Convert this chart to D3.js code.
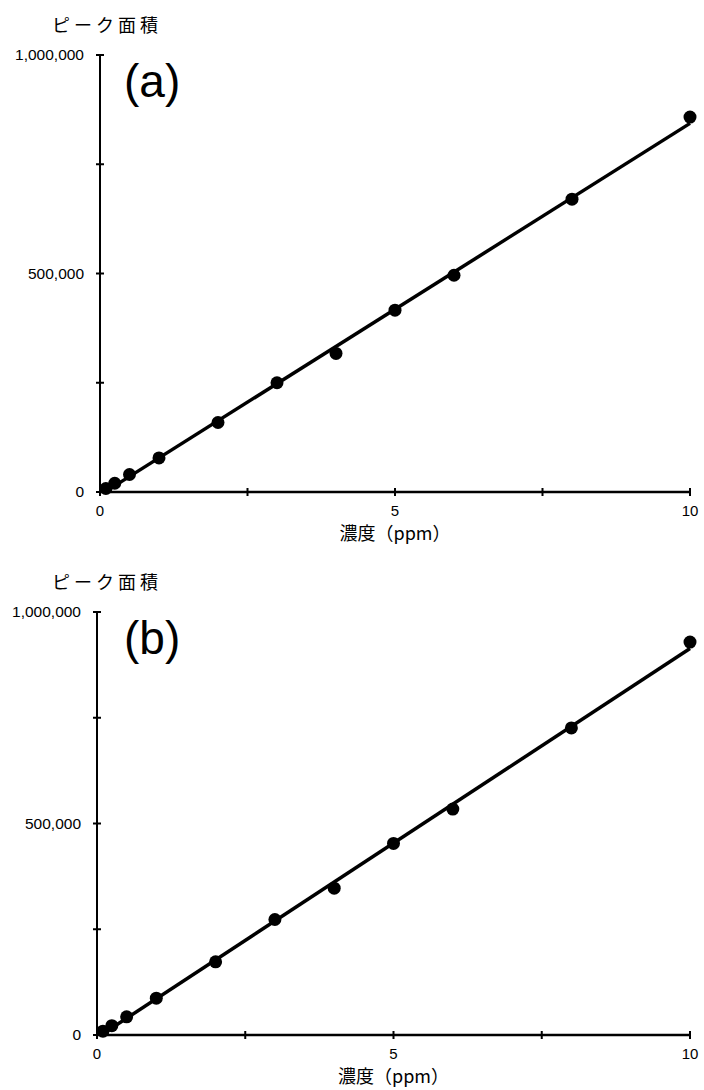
<!DOCTYPE html>
<html>
<head>
<meta charset="utf-8">
<script src="https://cdn.jsdelivr.net/npm/d3@7"></script>
<style>
  body { margin: 0; background: #fff; }
  svg { display: block; }
</style>
</head>
<body>
<div class="svg"></div>
<script>
var svgWidth = 704;
var svgHeight = 1090;

// concentration (ppm) and peak areas
var concentrations = [0.1, 0.25, 0.5, 1, 2, 3, 4, 5, 6, 8, 10];
var areaA = [8000, 20000, 40000, 78000, 159000, 250000, 317000, 416000, 496000, 670000, 858000];
var areaB = [9000, 22000, 43000, 87000, 173000, 273000, 347000, 453000, 534000, 726000, 929000];

var xTicks = [0, 2.5, 5, 7.5, 10];
var xTickLabels = [0, 5, 10];
var yTicks = [0, 250000, 500000, 750000, 1000000];
var yTickLabels = [0, 500000, 1000000];

var panelLabels = ["(a)", "(b)"];
var yTitle = "ピーク面積";
var xTitle = "濃度（ppm）";

var svg = d3.select(".svg")
  .append("svg")
  .attr("width", svgWidth)
  .attr("height", svgHeight);

var fmt = d3.format(",");

function drawPanel(values, label, box) {
  var x = d3.scaleLinear().domain([0, 10]).range([box.left, box.right]);
  var y = d3.scaleLinear().domain([0, 1000000]).range([box.bottom, box.top]);

  var g = svg.append("g");

  // y title
  g.append("text")
    .text(yTitle)
    .attr("x", 52)
    .attr("y", box.top - 23)
    .attr("font-family", "'Noto Sans CJK JP', sans-serif")
    .attr("font-size", 18)
    .attr("letter-spacing", 4)
    .attr("fill", "#000");

  // panel label
  g.append("text")
    .text(label)
    .attr("x", 124)
    .attr("y", box.top + 42)
    .attr("font-family", "'Liberation Sans', Arial, sans-serif")
    .attr("font-size", 46)
    .attr("fill", "#000");

  // axes lines
  g.append("line")
    .attr("x1", x(0)).attr("x2", x(0))
    .attr("y1", y(0)).attr("y2", y(1000000))
    .attr("stroke", "#000").attr("stroke-width", 2);
  g.append("line")
    .attr("x1", x(0)).attr("x2", x(10))
    .attr("y1", y(0)).attr("y2", y(0))
    .attr("stroke", "#000").attr("stroke-width", 2.5);

  // cross ticks
  g.selectAll(".xt").data(xTicks).enter().append("line")
    .attr("x1", function(d) { return x(d); })
    .attr("x2", function(d) { return x(d); })
    .attr("y1", y(0) - 4).attr("y2", y(0) + 4)
    .attr("stroke", "#000").attr("stroke-width", 2);
  g.selectAll(".yt").data(yTicks).enter().append("line")
    .attr("x1", x(0) - 4).attr("x2", x(0) + 4)
    .attr("y1", function(d) { return y(d); })
    .attr("y2", function(d) { return y(d); })
    .attr("stroke", "#000").attr("stroke-width", 2);

  g.selectAll(".xl").data(xTickLabels).enter().append("text")
    .text(function(d) { return d; })
    .attr("x", function(d) { return x(d); })
    .attr("y", y(0) + 24)
    .attr("text-anchor", "middle")
    .attr("font-family", "'Liberation Sans', Arial, sans-serif")
    .attr("font-size", 15)
    .attr("fill", "#000");
  g.selectAll(".yl").data(yTickLabels).enter().append("text")
    .text(function(d) { return fmt(d); })
    .attr("x", x(0) - 16)
    .attr("y", function(d) { return y(d) + 5; })
    .attr("text-anchor", "end")
    .attr("font-family", "'Liberation Sans', Arial, sans-serif")
    .attr("font-size", 15.5)
    .attr("fill", "#000");

  // x title
  g.append("text")
    .text(xTitle)
    .attr("x", (x(0) + x(10)) / 2)
    .attr("y", y(0) + 48)
    .attr("text-anchor", "middle")
    .attr("font-family", "'Noto Sans CJK JP', sans-serif")
    .attr("font-size", 18)
    .attr("fill", "#000");

  // least squares trend line over the data range
  var pts = concentrations.map(function(c, i) { return [c, values[i]]; });
  var mx = d3.mean(pts, function(p) { return p[0]; });
  var my = d3.mean(pts, function(p) { return p[1]; });
  var sxy = d3.sum(pts, function(p) { return (p[0] - mx) * (p[1] - my); });
  var sxx = d3.sum(pts, function(p) { return (p[0] - mx) * (p[0] - mx); });
  var slope = sxy / sxx;
  var icpt = my - slope * mx;
  var ext = d3.extent(concentrations);

  g.append("line")
    .attr("x1", x(ext[0])).attr("y1", y(icpt + slope * ext[0]))
    .attr("x2", x(ext[1])).attr("y2", y(icpt + slope * ext[1]))
    .attr("stroke", "#000").attr("stroke-width", 3.5);

  g.selectAll(".pt").data(pts).enter().append("circle")
    .attr("cx", function(d) { return x(d[0]); })
    .attr("cy", function(d) { return y(d[1]); })
    .attr("r", 6.5)
    .attr("fill", "#000");
}

drawPanel(areaA, panelLabels[0], { left: 100, right: 690, top: 55, bottom: 492 });
drawPanel(areaB, panelLabels[1], { left: 97, right: 690, top: 612, bottom: 1035 });
</script>
</body>
</html>
